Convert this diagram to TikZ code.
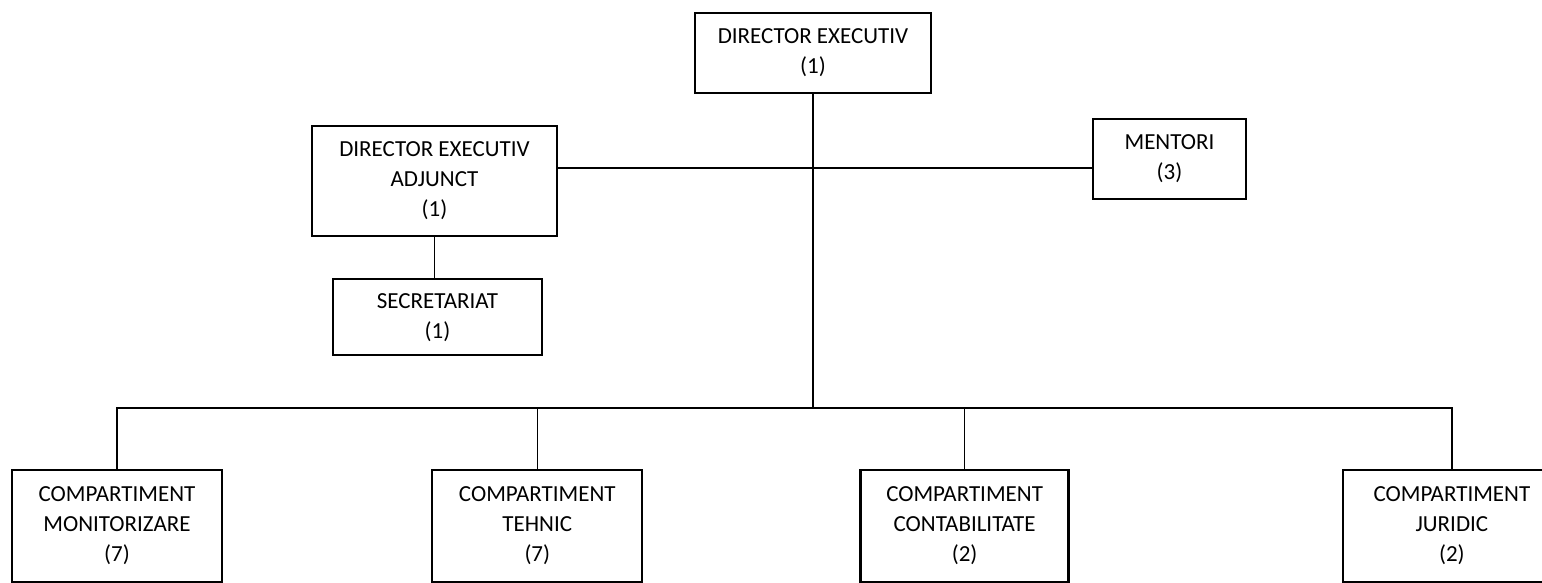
\documentclass[tikz,border=0pt]{standalone}
\usepackage{fontspec}
\setmainfont{Carlito}
\usetikzlibrary{positioning}

\begin{document}
\begin{tikzpicture}[x=1pt, y=-1pt,
	box/.style={draw, line width=2.3pt, align=center, inner sep=0pt, font=\fontsize{23}{30}\selectfont},
	unit/.style={box, minimum width=210pt, minimum height=112pt},
	link/.style={line width=1.4pt}]
	\useasboundingbox (0,0) rectangle (1542,582);
	\clip (0,0) rectangle (1542,582);

	\node[box, minimum width=236pt, minimum height=80pt]	(dir)	at (813,53)		{DIRECTOR EXECUTIV\\(1)};
	\node[box, minimum width=245pt, minimum height=110pt]	(adj)	at (434.5,181)	{DIRECTOR EXECUTIV\\ADJUNCT\\(1)};
	\node[box, minimum width=209pt, minimum height=76pt, below=41pt of adj, xshift=3pt]	(sec)	{SECRETARIAT\\(1)};
	\node[box, minimum width=153pt, minimum height=80pt]	(ment)	at (1169.5,159)	{MENTORI\\(3)};

	\node[unit]								(mon)		at (117,526)	{COMPARTIMENT\\MONITORIZARE\\(7)};
	\node[unit, right=208pt of mon]			(teh)		{COMPARTIMENT\\TEHNIC\\(7)};
	\node[unit, right=216pt of teh, minimum width=208pt]	(cont)	{COMPARTIMENT\\CONTABILITATE\\(2)};
	\node[unit, right=272pt of cont, minimum width=218pt]	(jur)	{COMPARTIMENT\\JURIDIC\\(2)};

	\coordinate (mid) at (813,168);
	\coordinate (bus) at (813,408);

	\draw[link] (dir.south) -- (bus);
	\draw[link] (adj.east |- mid) -- (ment.west |- mid);
	\draw[link] (adj.south) -- (adj.south |- sec.north);
	\draw[link] (mon.north) |- (bus) -| (jur.north);
	\draw[link] (teh.north) -- (teh.north |- bus);
	\draw[link] (cont.north) -- (cont.north |- bus);
\end{tikzpicture}
\end{document}
